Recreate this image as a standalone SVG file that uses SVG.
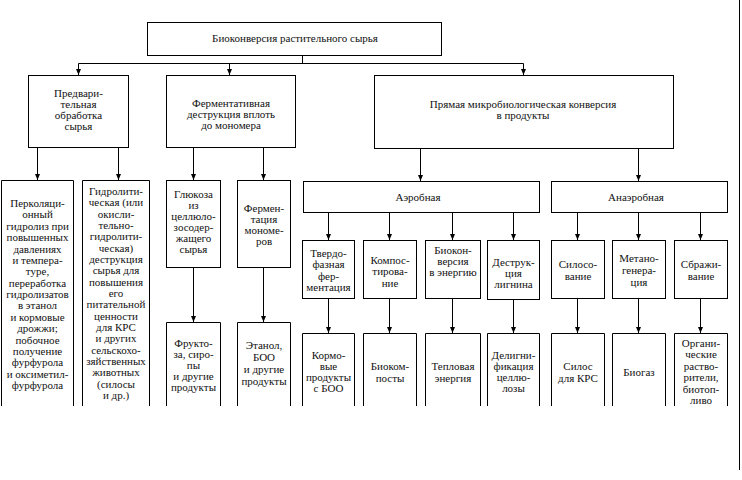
<svg xmlns="http://www.w3.org/2000/svg" width="742" height="480" viewBox="0 0 742 480">
<style>
.b{fill:#fff;stroke:#000;stroke-width:1}
.o{fill:none;stroke:#000;stroke-width:1}
.c{fill:none;stroke:#000;stroke-width:1}
.a{marker-end:url(#ah)}
.t{font-family:"Liberation Serif","Times New Roman",serif;font-size:11px;text-anchor:middle;fill:#111}
</style>
<defs>
<marker id="ah" markerUnits="userSpaceOnUse" markerWidth="6" markerHeight="6" refX="6" refY="2.5" orient="auto">
<path d="M0,0 L6,2.5 L0,5 z" fill="#000"/>
</marker>
</defs>
<rect width="742" height="480" fill="#fff"/>
<g id="connectors">
<path class="c" d="M302.5,55 V63.5 M78.5,63.5 H523.5"/>
<path class="c a" d="M78.5,63.5 V75"/>
<path class="c a" d="M229.5,63.5 V75"/>
<path class="c a" d="M523.5,63.5 V75"/>
<path class="c a" d="M37.5,147 V180"/>
<path class="c a" d="M118.5,147 V180"/>
<path class="c a" d="M193.5,147 V180"/>
<path class="c a" d="M263.5,147 V180"/>
<path class="c a" d="M193.5,267 V322"/>
<path class="c a" d="M263.5,267 V322"/>
<path class="c a" d="M420.5,148 V181"/>
<path class="c a" d="M638.5,148 V181"/>
<path class="c a" d="M328.5,212 V240"/>
<path class="c a" d="M389.5,212 V240"/>
<path class="c a" d="M452.5,212 V240"/>
<path class="c a" d="M513.5,212 V240"/>
<path class="c a" d="M577.5,212 V240"/>
<path class="c a" d="M638.5,212 V240"/>
<path class="c a" d="M700.5,212 V240"/>
<path class="c a" d="M328.5,298 V333"/>
<path class="c a" d="M389.5,298 V333"/>
<path class="c a" d="M452.5,298 V333"/>
<path class="c a" d="M513.5,298 V333"/>
<path class="c a" d="M577.5,298 V333"/>
<path class="c a" d="M638.5,298 V333"/>
<path class="c a" d="M700.5,298 V333"/>
<path class="c" d="M739.5,0 V470"/>
</g>
<g id="title" class="t">
<rect class="b" x="147.5" y="22.5" width="294" height="33"/>
<text x="295" y="42">Биоконверсия растительного сырья</text>
</g>
<g id="pretreatment" class="t">
<rect class="b" x="28.5" y="75.5" width="100" height="72"/>
<text x="78.5" y="97">Предвари-</text>
<text x="78.5" y="108">тельная</text>
<text x="78.5" y="119">обработка</text>
<text x="78.5" y="130">сырья</text>
</g>
<g id="enzymatic" class="t">
<rect class="b" x="166.5" y="75.5" width="129" height="72"/>
<text x="231" y="107">Ферментативная</text>
<text x="231" y="118">деструкция вплоть</text>
<text x="231" y="129">до мономера</text>
</g>
<g id="direct" class="t">
<rect class="b" x="374.5" y="75.5" width="299" height="73"/>
<text x="523" y="107.5">Прямая микробиологическая конверсия</text>
<text x="523" y="118.5">в продукты</text>
</g>
<g id="percolation" class="t">
<path class="o" d="M1.5,406 V180.5 H73.5 V406"/>
<text x="37.5" y="207">Перколяци-</text>
<text x="37.5" y="218.4">онный</text>
<text x="37.5" y="229.7">гидролиз при</text>
<text x="37.5" y="241.1">повышенных</text>
<text x="37.5" y="252.5">давлениях</text>
<text x="37.5" y="263.9">и темпера-</text>
<text x="37.5" y="275.2">туре,</text>
<text x="37.5" y="286.6">переработка</text>
<text x="37.5" y="298">гидролизатов</text>
<text x="37.5" y="309.4">в этанол</text>
<text x="37.5" y="320.7">и кормовые</text>
<text x="37.5" y="332.1">дрожжи;</text>
<text x="37.5" y="343.5">побочное</text>
<text x="37.5" y="354.9">получение</text>
<text x="37.5" y="366.2">фурфурола</text>
<text x="37.5" y="377.6">и оксиметил-</text>
<text x="37.5" y="389">фурфурола</text>
</g>
<g id="hydrolytic" class="t">
<path class="o" d="M82.5,406 V180.5 H149.5 V406"/>
<text x="116" y="195">Гидролити-</text>
<text x="116" y="206.3">ческая (или</text>
<text x="116" y="217.6">окисли-</text>
<text x="116" y="229">тельно-</text>
<text x="116" y="240.3">гидролити-</text>
<text x="116" y="251.6">ческая)</text>
<text x="116" y="263">деструкция</text>
<text x="116" y="274.3">сырья для</text>
<text x="116" y="285.6">повышения</text>
<text x="116" y="297">его</text>
<text x="116" y="308.3">питательной</text>
<text x="116" y="319.6">ценности</text>
<text x="116" y="331">для КРС</text>
<text x="116" y="342.3">и других</text>
<text x="116" y="353.6">сельскохо-</text>
<text x="116" y="365">зяйственных</text>
<text x="116" y="376.3">животных</text>
<text x="116" y="387.6">(силосы</text>
<text x="116" y="399">и др.)</text>
</g>
<g id="glucose" class="t">
<rect class="b" x="166.5" y="180.5" width="54" height="87"/>
<text x="193.5" y="197.5">Глюкоза</text>
<text x="193.5" y="208.5">из</text>
<text x="193.5" y="219.5">целлюло-</text>
<text x="193.5" y="230.5">зосодер-</text>
<text x="193.5" y="241.5">жащего</text>
<text x="193.5" y="252.5">сырья</text>
</g>
<g id="monomer-fermentation" class="t">
<rect class="b" x="237.5" y="180.5" width="53" height="87"/>
<text x="264" y="211.5">Фермен-</text>
<text x="264" y="222.5">тация</text>
<text x="264" y="233.5">мономе-</text>
<text x="264" y="244.5">ров</text>
</g>
<g id="fructose" class="t">
<path class="o" d="M166.5,406 V322.5 H220.5 V406"/>
<text x="193.5" y="346.5">Фрукто-</text>
<text x="193.5" y="357.5">за, сиро-</text>
<text x="193.5" y="368.5">пы</text>
<text x="193.5" y="379.5">и другие</text>
<text x="193.5" y="390.5">продукты</text>
</g>
<g id="ethanol" class="t">
<path class="o" d="M237.5,406 V322.5 H290.5 V406"/>
<text x="264" y="349">Этанол,</text>
<text x="264" y="361">БОО</text>
<text x="264" y="373">и другие</text>
<text x="264" y="384.5">продукты</text>
</g>
<g id="aerobic" class="t">
<rect class="b" x="303.5" y="181.5" width="236" height="31"/>
<text x="418" y="201">Аэробная</text>
</g>
<g id="anaerobic" class="t">
<rect class="b" x="551.5" y="181.5" width="176" height="31"/>
<text x="636" y="201">Анаэробная</text>
</g>
<g id="solid-state" class="t">
<rect class="b" x="302.5" y="240.5" width="52" height="58"/>
<text x="328.5" y="256.5">Твердо-</text>
<text x="328.5" y="268">фазная</text>
<text x="328.5" y="279.5">фер-</text>
<text x="328.5" y="291">ментация</text>
</g>
<g id="composting" class="t">
<rect class="b" x="363.5" y="240.5" width="53" height="58"/>
<text x="390" y="263.5">Компос-</text>
<text x="390" y="275">тирова-</text>
<text x="390" y="286.5">ние</text>
</g>
<g id="bioconversion" class="t">
<rect class="b" x="425.5" y="240.5" width="55" height="58"/>
<text x="453" y="253.5">Биокон-</text>
<text x="453" y="264.5">версия</text>
<text x="453" y="275.5">в энергию</text>
</g>
<g id="lignin" class="t">
<rect class="b" x="487.5" y="240.5" width="52" height="59"/>
<text x="513.5" y="265.5">Деструк-</text>
<text x="513.5" y="276.5">ция</text>
<text x="513.5" y="287.5">лигнина</text>
</g>
<g id="silage" class="t">
<rect class="b" x="551.5" y="240.5" width="53" height="58"/>
<text x="578" y="267.5">Силосо-</text>
<text x="578" y="279.5">вание</text>
</g>
<g id="methanogenesis" class="t">
<rect class="b" x="612.5" y="240.5" width="53" height="58"/>
<text x="639" y="261.5">Метано-</text>
<text x="639" y="273.5">генера-</text>
<text x="639" y="285.5">ция</text>
</g>
<g id="fermentation" class="t">
<rect class="b" x="674.5" y="240.5" width="53" height="58"/>
<text x="701" y="267.5">Сбражи-</text>
<text x="701" y="279.5">вание</text>
</g>
<g id="feed" class="t">
<path class="o" d="M302.5,406 V333.5 H354.5 V406"/>
<text x="328.5" y="358.5">Кормо-</text>
<text x="328.5" y="369.5">вые</text>
<text x="328.5" y="380.5">продукты</text>
<text x="328.5" y="391.5">с БОО</text>
</g>
<g id="biocompost" class="t">
<path class="o" d="M363.5,406 V333.5 H416.5 V406"/>
<text x="390" y="370">Биоком-</text>
<text x="390" y="381.5">посты</text>
</g>
<g id="heat" class="t">
<path class="o" d="M425.5,406 V333.5 H480.5 V406"/>
<text x="453" y="370">Тепловая</text>
<text x="453" y="381.5">энергия</text>
</g>
<g id="delignification" class="t">
<path class="o" d="M487.5,406 V333.5 H539.5 V406"/>
<text x="513.5" y="358.5">Делигни-</text>
<text x="513.5" y="369.5">фикация</text>
<text x="513.5" y="380.5">целлю-</text>
<text x="513.5" y="391.5">лозы</text>
</g>
<g id="silage-crs" class="t">
<path class="o" d="M551.5,406 V333.5 H604.5 V406"/>
<text x="578" y="370">Силос</text>
<text x="578" y="381.5">для КРС</text>
</g>
<g id="biogas" class="t">
<path class="o" d="M612.5,406 V333.5 H665.5 V406"/>
<text x="639" y="376">Биогаз</text>
</g>
<g id="solvents" class="t">
<path class="o" d="M674.5,406 V333.5 H727.5 V406"/>
<text x="701" y="346.5">Органи-</text>
<text x="701" y="358">ческие</text>
<text x="701" y="369.5">раство-</text>
<text x="701" y="381">рители,</text>
<text x="701" y="392.5">биотоп-</text>
<text x="701" y="404">ливо</text>
</g>
</svg>
